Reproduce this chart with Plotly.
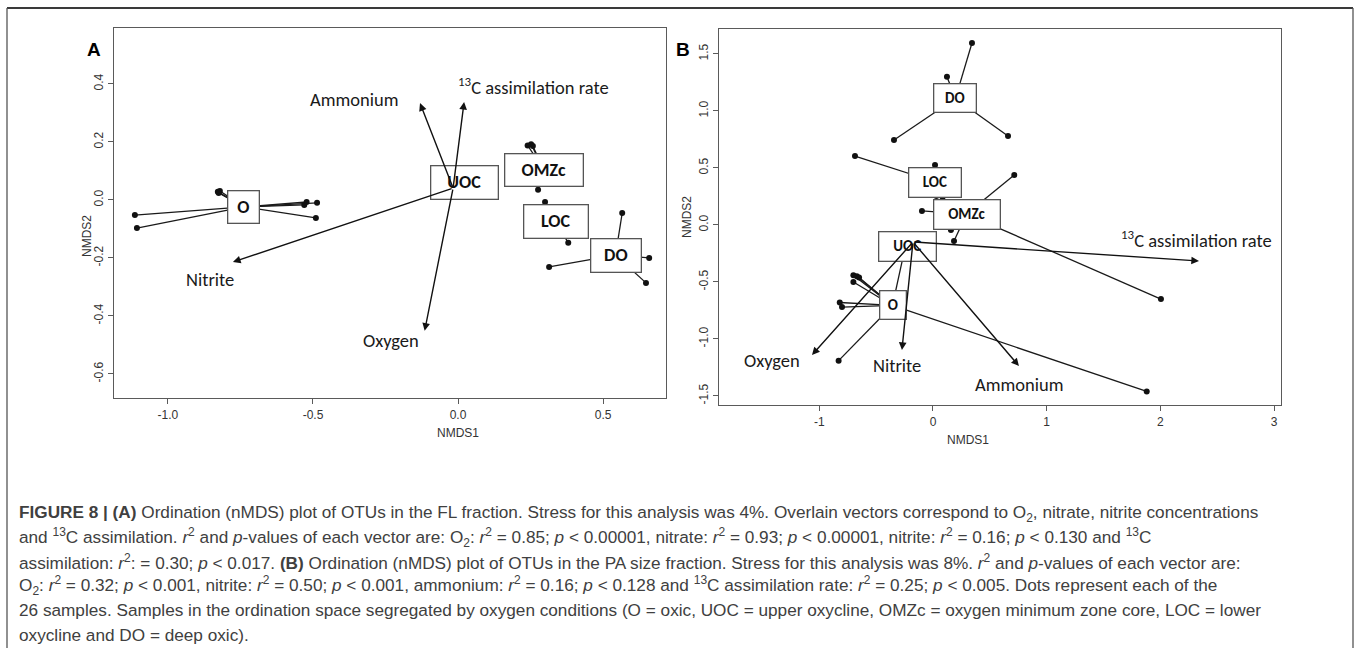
import plotly.graph_objects as go

W, H = 1358, 650

GROUPS = ["O", "UOC", "OMZc", "LOC", "DO"]

# ---------------- Panel A (FL fraction) ----------------
A_CENT_X = [-0.738, 0.024, 0.295, 0.338, 0.543]
A_CENT_Y = [-0.024, 0.059, 0.105, -0.076, -0.190]

A_SAMPLE_GROUP = (["O"] * 9 + ["UOC"] * 3 + ["OMZc"] * 7 + ["LOC"] * 3 + ["DO"] * 4)
A_SAMPLE_X = [-0.828, -0.821, -0.825, -0.522, -0.530, -0.486, -0.490, -1.114, -1.107,
              0.010, 0.035, 0.030,
              0.240, 0.252, 0.258, 0.276, 0.330, 0.350, 0.360,
              0.300, 0.380, 0.335,
              0.566, 0.659, 0.648, 0.314]
A_SAMPLE_Y = [0.028, 0.031, 0.024, -0.007, -0.017, -0.010, -0.062, -0.052, -0.097,
              0.060, 0.055, 0.065,
              0.188, 0.192, 0.186, 0.035, 0.110, 0.090, 0.120,
              -0.007, -0.148, -0.070,
              -0.045, -0.200, -0.286, -0.231]

A_VEC_NAMES = ["Ammonium", "<sup>13</sup>C assimilation rate", "Nitrite", "Oxygen"]
A_VEC_ORIGIN = (-0.017, 0.041)
A_VEC_X = [-0.131, 0.021, -0.776, -0.115]
A_VEC_Y = [0.334, 0.338, -0.214, -0.451]
A_VEC_LABEL_X = [-0.360, 0.259, -0.855, -0.232]
A_VEC_LABEL_Y = [0.345, 0.390, -0.276, -0.486]

A_XRANGE = [-1.186, 0.717]
A_YRANGE = [-0.683, 0.593]
A_XTICKS = [-1.0, -0.5, 0.0, 0.5]
A_XTICKTEXT = ["-1.0", "-0.5", "0.0", "0.5"]
A_YTICKS = [-0.6, -0.4, -0.2, 0.0, 0.2, 0.4]
A_YTICKTEXT = ["-0.6", "-0.4", "-0.2", "0.0", "0.2", "0.4"]

# ---------------- Panel B (PA fraction) ----------------
B_CENT_X = [-0.356, -0.220, 0.295, 0.022, 0.198]
B_CENT_Y = [-0.706, -0.193, 0.096, 0.377, 1.110]

B_SAMPLE_GROUP = (["O"] * 9 + ["UOC"] * 2 + ["OMZc"] * 5 + ["LOC"] * 4 + ["DO"] * 4)
B_SAMPLE_X = [-0.700, -0.670, -0.650, -0.700, -0.820, -0.800, -0.830, 1.880, -0.250,
              -0.260, -0.180,
              0.715, 2.005, -0.097, 0.158, 0.185,
              -0.686, 0.018, 0.030, 0.085,
              0.343, 0.123, -0.343, 0.660]
B_SAMPLE_Y = [-0.440, -0.450, -0.460, -0.500, -0.680, -0.720, -1.190, -1.460, -0.220,
              -0.180, -0.210,
              0.438, -0.650, 0.123, -0.044, -0.140,
              0.605, 0.526, 0.255, 0.245,
              1.596, 1.300, 0.746, 0.780]

B_VEC_NAMES = ["Oxygen", "Nitrite", "Ammonium", "<sup>13</sup>C assimilation rate"]
B_VEC_ORIGIN = (-0.176, -0.149)
B_VEC_X = [-1.064, -0.273, 0.756, 2.340]
B_VEC_Y = [-1.140, -1.096, -1.237, -0.316]
B_VEC_LABEL_X = [-1.416, -0.317, 0.756, 2.320]
B_VEC_LABEL_Y = [-1.190, -1.230, -1.395, -0.123]

B_XRANGE = [-1.882, 3.061]
B_YRANGE = [-1.579, 1.719]
B_XTICKS = [-1, 0, 1, 2, 3]
B_XTICKTEXT = ["-1", "0", "1", "2", "3"]
B_YTICKS = [-1.5, -1.0, -0.5, 0.0, 0.5, 1.0, 1.5]
B_YTICKTEXT = ["-1.5", "-1.0", "-0.5", "0.0", "0.5", "1.0", "1.5"]

CAPTION_LINES = [
    "<b>FIGURE 8 | (A)</b> Ordination (nMDS) plot of OTUs in the FL fraction. Stress for this analysis was 4%. "
    "Overlain vectors correspond to O<sub>2</sub>, nitrate, nitrite concentrations",
    "and <sup>13</sup>C assimilation. <i>r</i><sup>2</sup> and <i>p</i>-values of each vector are: O<sub>2</sub>: "
    "<i>r</i><sup>2</sup> = 0.85; <i>p</i> &lt; 0.00001, nitrate: <i>r</i><sup>2</sup> = 0.93; <i>p</i> &lt; 0.00001, "
    "nitrite: <i>r</i><sup>2</sup> = 0.16; <i>p</i> &lt; 0.130 and <sup>13</sup>C",
    "assimilation: <i>r</i><sup>2</sup>: = 0.30; <i>p</i> &lt; 0.017. <b>(B)</b> Ordination (nMDS) plot of OTUs in the "
    "PA size fraction. Stress for this analysis was 8%. <i>r</i><sup>2</sup> and <i>p</i>-values of each vector are:",
    "O<sub>2</sub>: <i>r</i><sup>2</sup> = 0.32; <i>p</i> &lt; 0.001, nitrite: <i>r</i><sup>2</sup> = 0.50; "
    "<i>p</i> &lt; 0.001, ammonium: <i>r</i><sup>2</sup> = 0.16; <i>p</i> &lt; 0.128 and <sup>13</sup>C assimilation "
    "rate: <i>r</i><sup>2</sup> = 0.25; <i>p</i> &lt; 0.005. Dots represent each of the",
    "26 samples. Samples in the ordination space segregated by oxygen conditions (O = oxic, UOC = upper oxycline, "
    "OMZc = oxygen minimum zone core, LOC = lower",
    "oxycline and DO = deep oxic).",
]

# ---------------- styles ----------------
STYLE = {
    "A": {"dom_x": (114, 666), "dom_y": (28, 398), "box_font": 18,
          "box_size": {"O": (32, 33), "UOC": (68, 34), "OMZc": (79, 33), "LOC": (65, 34), "DO": (51, 34)}},
    "B": {"dom_x": (719, 1281), "dom_y": (29, 405), "box_font": 15,
          "box_size": {"O": (27, 29), "UOC": (58, 30), "OMZc": (67, 30), "LOC": (53, 30), "DO": (43, 29)}},
}
LABEL_FONT = "Carlito, Lato, sans-serif"
AXIS_FONT = "Liberation Sans, Arial, sans-serif"
CAPTION_FONT = "Liberation Sans, Arial, sans-serif"
FRAME_COL = "#5a5a5a"


def px_dom(dx, dy):
    return [dx[0] / W, dx[1] / W], [1 - dy[1] / H, 1 - dy[0] / H]


fig = go.Figure()
annotations = []


def add_panel(key, xa, ya, cx, cy, sg, sx, sy, vnames, vorig, vx, vy, lx, ly):
    xref, yref = xa, ya
    cent = {g: (cx[i], cy[i]) for i, g in enumerate(GROUPS)}
    # spider lines from group centroid to each sample
    lxs, lys = [], []
    for g, x, y in zip(sg, sx, sy):
        c = cent[g]
        lxs += [c[0], x, None]
        lys += [c[1], y, None]
    fig.add_trace(go.Scatter(x=lxs, y=lys, mode="lines", xaxis=xa, yaxis=ya,
                             line=dict(color="#1a1a1a", width=1.3), hoverinfo="skip"))
    fig.add_trace(go.Scatter(x=sx, y=sy, mode="markers", xaxis=xa, yaxis=ya,
                             marker=dict(color="#111111", size=6), hoverinfo="skip"))
    # group label boxes
    st = STYLE[key]
    for g in GROUPS:
        w, h = st["box_size"][g]
        annotations.append(dict(
            x=cent[g][0], y=cent[g][1], xref=xref, yref=yref, text="<b>%s</b>" % g,
            showarrow=False, width=w - 2, height=h - 2, borderpad=0, borderwidth=1.3,
            bordercolor="#555555", bgcolor="white", align="center", valign="middle",
            font=dict(family=LABEL_FONT, size=st["box_font"], color="#111111")))
    # fitted vectors
    for i in range(len(vnames)):
        annotations.append(dict(
            x=vx[i], y=vy[i], ax=vorig[0], ay=vorig[1], xref=xref, yref=yref,
            axref=xref, ayref=yref, text="", showarrow=True, arrowhead=2,
            arrowsize=1.1, arrowwidth=1.4, arrowcolor="#111111", standoff=0))
        annotations.append(dict(
            x=lx[i], y=ly[i], xref=xref, yref=yref, text=vnames[i], showarrow=False,
            font=dict(family=LABEL_FONT, size=18.5, color="#1a1a1a")))


add_panel("A", "x", "y", A_CENT_X, A_CENT_Y, A_SAMPLE_GROUP, A_SAMPLE_X, A_SAMPLE_Y,
          A_VEC_NAMES, A_VEC_ORIGIN, A_VEC_X, A_VEC_Y, A_VEC_LABEL_X, A_VEC_LABEL_Y)
add_panel("B", "x2", "y2", B_CENT_X, B_CENT_Y, B_SAMPLE_GROUP, B_SAMPLE_X, B_SAMPLE_Y,
          B_VEC_NAMES, B_VEC_ORIGIN, B_VEC_X, B_VEC_Y, B_VEC_LABEL_X, B_VEC_LABEL_Y)

axis_common = dict(showgrid=False, zeroline=False, showline=True, linecolor=FRAME_COL,
                   linewidth=1.4, mirror=True, ticks="outside", ticklen=5, tickwidth=1,
                   tickcolor=FRAME_COL, tickfont=dict(family=AXIS_FONT, size=12, color="#333333"))

adx, ady = px_dom(STYLE["A"]["dom_x"], STYLE["A"]["dom_y"])
bdx, bdy = px_dom(STYLE["B"]["dom_x"], STYLE["B"]["dom_y"])

fig.update_layout(
    width=W, height=H, margin=dict(l=0, r=0, t=0, b=0),
    paper_bgcolor="white", plot_bgcolor="white", showlegend=False,
    xaxis=dict(domain=adx, range=A_XRANGE, tickvals=A_XTICKS, ticktext=A_XTICKTEXT,
               anchor="y", **axis_common),
    yaxis=dict(domain=ady, range=A_YRANGE, tickvals=A_YTICKS, ticktext=A_YTICKTEXT,
               anchor="x", tickangle=-90, **axis_common),
    xaxis2=dict(domain=bdx, range=B_XRANGE, tickvals=B_XTICKS, ticktext=B_XTICKTEXT,
                anchor="y2", **axis_common),
    yaxis2=dict(domain=bdy, range=B_YRANGE, tickvals=B_YTICKS, ticktext=B_YTICKTEXT,
                anchor="x2", tickangle=-90, **axis_common),
)


def paper(pxx, pyy):
    return pxx / W, 1 - pyy / H


# axis titles
for txt, (px_, py_), ang in [("NMDS1", (458, 433), 0), ("NMDS1", (991, 449), 0),
                             ("NMDS2", (78, 213), -90), ("NMDS2", (687, 217), -90)]:
    x, y = paper(px_, py_)
    annotations.append(dict(x=x, y=y, xref="paper", yref="paper", text=txt, showarrow=False,
                            textangle=ang, font=dict(family=AXIS_FONT, size=12, color="#333333")))

# panel letters
for txt, (px_, py_) in [("A", (85, 37)), ("B", (683, 37))]:
    x, y = paper(px_, py_)
    annotations.append(dict(x=x, y=y, xref="paper", yref="paper", text="<b>%s</b>" % txt,
                            showarrow=False, font=dict(family=AXIS_FONT, size=19, color="#000000")))

# caption
CAP_Y0, CAP_DY = 513, 24.3
for i, line in enumerate(CAPTION_LINES):
    x, y = paper(17, CAP_Y0 + i * CAP_DY)
    annotations.append(dict(x=x, y=y, xref="paper", yref="paper", text=line, showarrow=False,
                            xanchor="left", yanchor="middle", align="left",
                            font=dict(family=CAPTION_FONT, size=17.2, color="#404040")))

fig.update_layout(annotations=annotations)

# outer frame
shapes = []
for (x0, y0, x1, y1, wd, col) in [(7, 8, 1353, 8, 2.2, "#3a3a3a"),
                                  (7, 8, 7, 648, 1.3, "#555555"),
                                  (1353, 8, 1353, 648, 1.3, "#555555")]:
    a0, b0 = paper(x0, y0)
    a1, b1 = paper(x1, y1)
    shapes.append(dict(type="line", xref="paper", yref="paper", x0=a0, y0=b0, x1=a1, y1=b1,
                       line=dict(color=col, width=wd)))
fig.update_layout(shapes=shapes)

fig.write_html("out.html")
